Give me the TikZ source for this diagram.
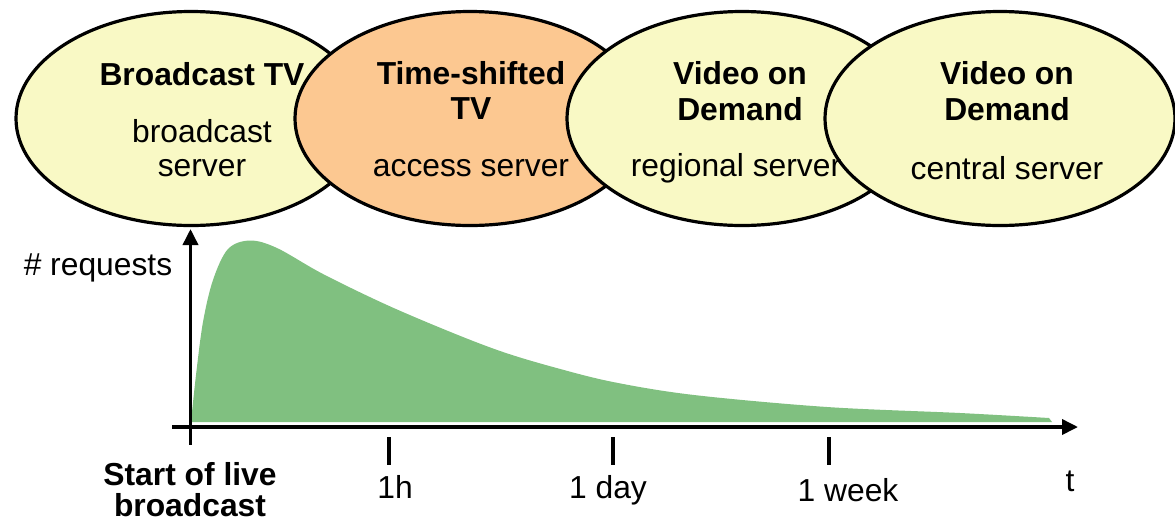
\documentclass[tikz,border=0pt]{standalone}
\usepackage{fontspec}
\setmainfont{Liberation Sans}
\usetikzlibrary{shapes.geometric,arrows.meta}
\definecolor{serveryellow}{HTML}{F9F9C5}
\definecolor{serverorange}{HTML}{FCC891}
\definecolor{demandgreen}{HTML}{80C080}
\begin{document}
\begin{tikzpicture}[x=1pt,y=-1pt,
  server/.style={ellipse,draw=black,line width=3.2pt,minimum width=350pt,minimum height=214pt,inner sep=0pt},
  title/.style={font=\fontsize{31.8}{36}\selectfont\bfseries,inner sep=0pt},
  label/.style={font=\fontsize{31.8}{36}\selectfont,inner sep=0pt},
  axis/.style={line width=3.6pt},
  tick/.style={line width=3.6pt}]
\useasboundingbox (0,0) rectangle (1175,520);

% server ellipses, each one overlapping the previous
\node[server,fill=serveryellow] (bc) at (191,118.5) {};
\node[server,fill=serverorange] (ts) at (470,118.5) {};
\node[server,fill=serveryellow] (rv) at (742,118.5) {};
\node[server,fill=serveryellow] (cv) at (1000,118.5) {};

\node[title] (bct) at (202,74) {Broadcast TV};
\node[label] (bcs1) at (202,131) {broadcast};
\node[label] (bcs2) at (202,168) {server};

\node[title] (tst1) at (471,73) {Time-shifted};
\node[title] (tst2) at (471,109) {TV};
\node[label] (tss) at (471,168) {access server};

\node[title] (rvt1) at (740,73) {Video on};
\node[title] (rvt2) at (740,109) {Demand};
\node[label] (rvs) at (736,168) {regional server};

\node[title] (cvt1) at (1007,73) {Video on};
\node[title] (cvt2) at (1007,109) {Demand};
\node[label] (cvs) at (1007,168) {central server};

% request curve
\fill[demandgreen] plot[smooth,tension=0.55] coordinates {
  (191,422) (196,375) (203,322) (213,280) (228,249) (250,240.5)
  (277,248) (323,274) (387,305) (453,333) (503,352) (553,367)
  (613,382) (694,395) (827,407) (960,413) (1049,418)}
  -- (1052,422) -- cycle;

% axes
\coordinate (origin) at (190.5,427);
\coordinate (ytop) at (190.5,229);
\coordinate (xleft) at (172,427);
\coordinate (xright) at (1078,427);
\draw[axis,-{Triangle[length=16pt,width=15pt]}] (origin) -- (ytop);
\draw[axis,-{Triangle[length=16pt,width=15pt]}] (xleft) -- (xright);

\coordinate (t0) at (190.5,427);
\coordinate (t1) at (389,427);
\coordinate (t2) at (613,427);
\coordinate (t3) at (829,427);
\draw[tick] (t0) -- ++(0,18);
\draw[tick] ([yshift=-10pt]t1) -- ++(0,28);
\draw[tick] ([yshift=-10pt]t2) -- ++(0,28);
\draw[tick] ([yshift=-10pt]t3) -- ++(0,28);

\node[label] (ylab) at (98,268) {\# requests};
\node[title] (start1) at (190,474) {Start of live};
\node[title] (start2) at (190,505) {broadcast};
\node[label] (l1h) at (395,487) {1h};
\node[label] (l1d) at (608,490) {1 day};
\node[label] (l1w) at (848,490) {1 week};
\node[label] (lt) at (1070,481) {t};
\end{tikzpicture}
\end{document}
